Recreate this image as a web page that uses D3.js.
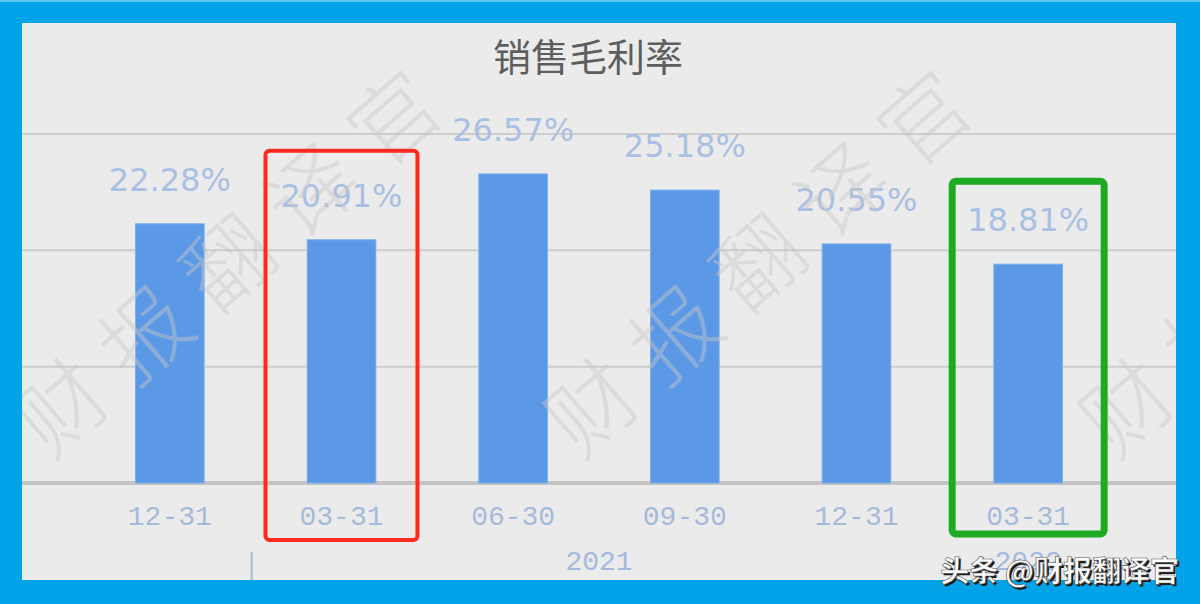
<!DOCTYPE html>
<html><head><meta charset="utf-8">
<script src="https://cdn.jsdelivr.net/npm/d3@7"></script>
<style>html,body{margin:0;padding:0;background:#00a2e8;}svg{display:block;}</style>
</head><body>
<script>
const categories = ["12-31","03-31","06-30","09-30","12-31","03-31"];
const years = ["2020","2021","2021","2021","2021","2022"];
const values = [22.28, 20.91, 26.57, 25.18, 20.55, 18.81];
const yTicks = [0, 10, 20, 30];
const title = "销售毛利率";
const watermark = "财报翻译官";
const credit = "头条 @财报翻译官";
const highlights = [{index:1, color:"#ff2a1f", width:4}, {index:5, color:"#1eaa22", width:7}];

const W = 1200, H = 604;
const svg = d3.select("body").append("svg").attr("width", W).attr("height", H);
svg.append("rect").attr("x",0).attr("y",0).attr("width",W).attr("height",H).attr("fill","#00a2e8");
svg.append("rect").attr("x",0).attr("y",0).attr("width",W).attr("height",2).attr("fill","#5cc6f2");
const inner = {x:22, y:23, w:1154, h:557};
svg.append("rect").attr("x",inner.x).attr("y",inner.y).attr("width",inner.w).attr("height",inner.h).attr("fill","#ebebeb");
svg.append("clipPath").attr("id","clip").append("rect").attr("x",inner.x).attr("y",inner.y).attr("width",inner.w).attr("height",inner.h);
const g = svg.append("g").attr("clip-path","url(#clip)");

const idx = d3.range(categories.length);
const x = d3.scaleBand().domain(idx).range([84, 1114]).paddingInner(0.6).paddingOuter(0.3);
const y = d3.scaleLinear().domain([0, 30]).range([483, 134]);

// gridlines
g.selectAll("line.grid").data(yTicks).join("line")
  .attr("x1",inner.x).attr("x2",inner.x+inner.w)
  .attr("y1",d=>y(d)).attr("y2",d=>y(d))
  .attr("stroke",d=>d===0?"#c4c4c4":"#cdcdcd").attr("stroke-width",d=>d===0?4:2);

// title
g.append("text").attr("x",588).attr("y",71).attr("text-anchor","middle")
  .attr("font-family","Noto Sans CJK SC").attr("font-size",38).attr("fill","#5e5e5e").text(title);

// bars
g.selectAll("rect.bar").data(idx).join("rect")
  .attr("x",i=>x(i)).attr("width",x.bandwidth())
  .attr("y",i=>y(values[i])).attr("height",i=>y(0)-y(values[i]))
  .attr("fill","#5b98e6").attr("stroke","#7fb0ee").attr("stroke-width",1);

// value labels
g.selectAll("text.val").data(idx).join("text")
  .attr("x",i=>x(i)+x.bandwidth()/2).attr("y",i=>y(values[i])-33)
  .attr("text-anchor","middle").attr("font-family","DejaVu Sans").attr("font-size",32)
  .attr("fill","#a9c0e3").text(i=>values[i].toFixed(2)+"%");

// category labels
g.selectAll("text.cat").data(idx).join("text")
  .attr("x",i=>x(i)+x.bandwidth()/2).attr("y",525)
  .attr("text-anchor","middle").attr("font-family","Liberation Mono").attr("font-size",28)
  .attr("fill","#a5badb").text(i=>categories[i]);

// year groups
const groups = d3.groups(idx, i=>years[i]);
groups.forEach(([yr, list])=>{
  const x0 = x(list[0]) + x.bandwidth()/2, x1 = x(list[list.length-1]) + x.bandwidth()/2;
  if (yr!=="2020") {
    g.append("text").attr("x",(x0+x1)/2).attr("y",570).attr("text-anchor","middle")
      .attr("font-family","Liberation Mono").attr("font-size",28).attr("fill","#a5badb").text(yr);
  }
});
const sepX = x(1) - x.step()*x.paddingInner()/2;
g.append("line").attr("x1",sepX-4).attr("x2",sepX-4).attr("y1",552).attr("y2",580)
  .attr("stroke","#a5badb").attr("stroke-width",2);

// watermarks (drawn over the bars)
[[242,262],[772,262],[1307,262]].forEach(([cx,cy])=>{
  g.append("text").attr("transform",`translate(${cx},${cy}) rotate(-41)`)
    .attr("text-anchor","middle").attr("dominant-baseline","middle")
    .attr("font-family","Noto Sans CJK SC").attr("font-size",88).attr("font-weight",300)
    .attr("fill","#c8c8c8").attr("fill-opacity",0.45)
    .attr("letter-spacing",22)
    .text(watermark);
});

// highlight boxes
highlights.forEach(h=>{
  const cx = x(h.index)+x.bandwidth()/2;
  const top = y(values[h.index]) - (h.index===1 ? 89 : 83);
  const bottom = h.index===1 ? 540 : 534;
  g.append("rect").attr("x",cx-76).attr("width",152).attr("y",top).attr("height",bottom-top)
    .attr("rx",4).attr("fill","none").attr("stroke",h.color).attr("stroke-width",h.width);
});

// credit (white with dark drop shadow)
const cr = svg.append("g").attr("font-family","Noto Sans CJK SC").attr("font-size",29).attr("font-weight",700).attr("text-anchor","end");
cr.append("text").attr("x",1181).attr("y",584).attr("fill","#1a1a1a").text(credit);
cr.append("text").attr("x",1179).attr("y",582).attr("fill","#ffffff").attr("stroke","#555").attr("stroke-width",0.6).text(credit);
</script>
</body></html>
